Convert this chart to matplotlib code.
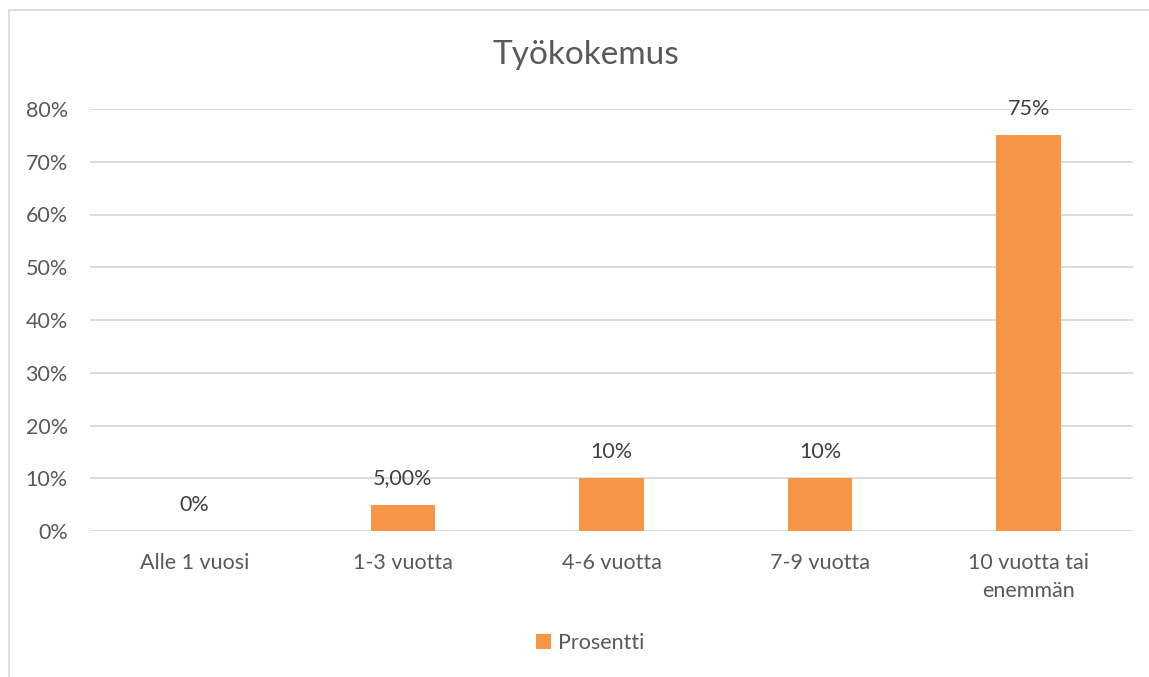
import matplotlib.pyplot as plt
from matplotlib.patches import Rectangle

plt.rcParams['font.family'] = ['Lato', 'DejaVu Sans']

categories = ["Alle 1 vuosi", "1-3 vuotta", "4-6 vuotta", "7-9 vuotta", "10 vuotta tai\nenemmän"]
values = [0.0, 0.05, 0.10, 0.10, 0.75]
labels = ["0%", "5,00%", "10%", "10%", "75%"]
yticks = [0, 0.1, 0.2, 0.3, 0.4, 0.5, 0.6, 0.7, 0.8]

orange = "#F79646"
txt = "#595959"
grid = "#D9D9D9"
fs = 15.5

fig = plt.figure(figsize=(11.49, 6.77), dpi=100)
# chart border
fig.patches.append(Rectangle((9/1149, -0.1), 1.2, 1 - 10/677 + 0.1, transform=fig.transFigure,
                             fill=False, edgecolor=grid, lw=1.2))
ax = fig.add_axes([90/1149, 1 - 531/677, (1133 - 90)/1149, (531 - 109)/677])

x = range(len(categories))
bars = ax.bar(x, values, width=0.31, color=orange, label="Prosentti", zorder=3)
for xi, v, lab in zip(x, values, labels):
    ax.annotate(lab, (xi, v), xytext=(0, 19), textcoords="offset points",
                ha="center", va="center", fontsize=fs, color="#404040")

ax.set_xlim(-0.5, 4.5)
ax.set_ylim(0, 0.8)
ax.set_yticks(yticks)
ax.set_yticklabels([f"{int(round(t*100))}%" for t in yticks])
ax.set_xticks(list(x))
ax.set_xticklabels(categories, linespacing=1.5)
ax.tick_params(axis="both", length=0, colors=txt, labelsize=fs)
ax.tick_params(axis="x", pad=16)
ax.tick_params(axis="y", pad=16)
ax.grid(axis="y", color=grid, lw=1.3, zorder=0)
for s in ax.spines.values():
    s.set_visible(False)

fig.text(586/1149, 1 - 55/677, "Työkokemus", ha="center", va="center", fontsize=24, color=txt)
fig.legend(loc="center", bbox_to_anchor=(590/1149, 1 - 643/677), frameon=False, fontsize=fs,
           handlelength=0.7, handleheight=0.7, handletextpad=0.3, labelcolor=txt)

fig.savefig("out.png", dpi=100)
